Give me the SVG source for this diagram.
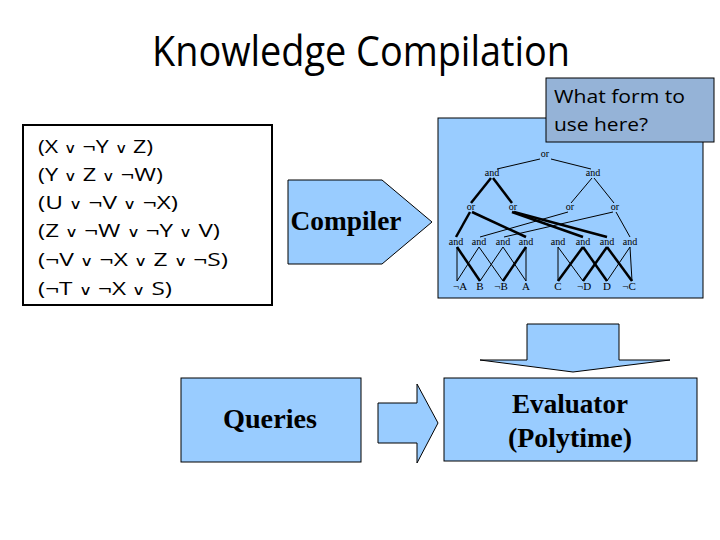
<svg xmlns="http://www.w3.org/2000/svg" width="720" height="540" viewBox="0 0 720 540">
<style>
.title{font-family:"Open Sans","DejaVu Sans",sans-serif;font-size:42px;fill:#000}
.cl{font-family:"Open Sans","DejaVu Sans",sans-serif;font-size:19px;fill:#000}
.v{font-family:"DejaVu Sans",sans-serif;font-size:14px;font-weight:200}
.big{font-family:"Liberation Serif","Times New Roman",serif;font-weight:bold;font-size:27px;fill:#000;text-anchor:middle}
.t{font-family:"Liberation Serif","Times New Roman",serif;font-size:10px;fill:#000;text-anchor:middle}
.lf{font-family:"Liberation Serif","DejaVu Serif",serif;font-size:11px;fill:#000;text-anchor:middle}
.blue{fill:#99CCFF;stroke:#000;stroke-width:1}
.thin{stroke:#000;stroke-width:1;fill:none}
.thick{stroke:#000;stroke-width:2.5;fill:none}
</style>
<rect width="720" height="540" fill="#fff"/>
<text class="title" x="152" y="66" textLength="418" lengthAdjust="spacingAndGlyphs">Knowledge Compilation</text>

<g id="clauses">
<rect x="23" y="125" width="249" height="180" fill="#fff" stroke="#000" stroke-width="2"/>
<text class="cl" x="38" y="153" textLength="115" lengthAdjust="spacingAndGlyphs">(X <tspan class="v">∨</tspan> ¬Y <tspan class="v">∨</tspan> Z)</text>
<text class="cl" x="38" y="181" textLength="125" lengthAdjust="spacingAndGlyphs">(Y <tspan class="v">∨</tspan> Z <tspan class="v">∨</tspan> ¬W)</text>
<text class="cl" x="38" y="209" textLength="140" lengthAdjust="spacingAndGlyphs">(U <tspan class="v">∨</tspan> ¬V <tspan class="v">∨</tspan> ¬X)</text>
<text class="cl" x="38" y="237" textLength="182" lengthAdjust="spacingAndGlyphs">(Z <tspan class="v">∨</tspan> ¬W <tspan class="v">∨</tspan> ¬Y <tspan class="v">∨</tspan> V)</text>
<text class="cl" x="38" y="266" textLength="190" lengthAdjust="spacingAndGlyphs">(¬V <tspan class="v">∨</tspan> ¬X <tspan class="v">∨</tspan> Z <tspan class="v">∨</tspan> ¬S)</text>
<text class="cl" x="38" y="295" textLength="134" lengthAdjust="spacingAndGlyphs">(¬T <tspan class="v">∨</tspan> ¬X <tspan class="v">∨</tspan> S)</text>
</g>

<g id="compiler">
<polygon class="blue" points="288,180 382,180 432,222 382,264 288,264"/>
<text class="big" x="346" y="230" textLength="111" lengthAdjust="spacingAndGlyphs">Compiler</text>
</g>

<g id="circuit">
<rect class="blue" x="438" y="118" width="265" height="180"/>
<text class="t" x="545" y="157">or</text>
<text class="t" x="492" y="176">and</text>
<text class="t" x="593" y="176">and</text>
<text class="t" x="471" y="210">or</text>
<text class="t" x="513" y="210">or</text>
<text class="t" x="570" y="210">or</text>
<text class="t" x="615" y="210">or</text>
<text class="t" x="456" y="245">and</text>
<text class="t" x="479" y="245">and</text>
<text class="t" x="503" y="245">and</text>
<text class="t" x="526" y="245">and</text>
<text class="t" x="558" y="245">and</text>
<text class="t" x="583" y="245">and</text>
<text class="t" x="607" y="245">and</text>
<text class="t" x="630" y="245">and</text>
<text class="lf" x="460" y="290">¬A</text>
<text class="lf" x="480" y="290">B</text>
<text class="lf" x="501" y="290">¬B</text>
<text class="lf" x="526" y="290">A</text>
<text class="lf" x="558" y="290">C</text>
<text class="lf" x="584" y="290">¬D</text>
<text class="lf" x="607" y="290">D</text>
<text class="lf" x="629" y="290">¬C</text>
</g>

<g id="callout">
<rect x="546" y="78" width="168" height="64" fill="#95B3D7" stroke="#000" stroke-width="1"/>
<text class="cl" x="554" y="103" textLength="131" lengthAdjust="spacingAndGlyphs">What form to</text>
<text class="cl" x="554" y="131" textLength="94" lengthAdjust="spacingAndGlyphs">use here?</text>
</g>

<g id="queries">
<rect class="blue" x="181" y="378" width="180" height="84"/>
<text class="big" x="270" y="428" textLength="94" lengthAdjust="spacingAndGlyphs">Queries</text>
</g>

<g id="evaluator">
<rect class="blue" x="444" y="378" width="253" height="83"/>
<text class="big" x="570" y="413" textLength="116" lengthAdjust="spacingAndGlyphs">Evaluator</text>
<text class="big" x="570" y="447" textLength="124" lengthAdjust="spacingAndGlyphs">(Polytime)</text>
</g>

<g id="connectors">
<polygon class="blue" points="527,324 619,324 619,360 670,360 573,372 480,360 527,360"/>
<polygon class="blue" points="378,403 417,403 417,384 438,423 417,463 417,443 378,443"/>
<g class="thin">
<line x1="540" y1="159" x2="497" y2="169"/>
<line x1="551" y1="159" x2="591" y2="169"/>
<line x1="592" y1="178" x2="571" y2="203"/>
<line x1="594" y1="178" x2="614" y2="203"/>
<line x1="568" y1="212" x2="480" y2="237"/>
<line x1="613" y1="212" x2="504" y2="237"/>
<line x1="616" y1="212" x2="630" y2="237"/>
<line x1="457" y1="247" x2="457" y2="281"/>
<line x1="479" y1="247" x2="457" y2="281"/>
<line x1="479" y1="247" x2="503" y2="281"/>
<line x1="503" y1="247" x2="480" y2="281"/>
<line x1="503" y1="247" x2="526" y2="281"/>
<line x1="526" y1="247" x2="526" y2="281"/>
<line x1="558" y1="247" x2="558" y2="281"/>
<line x1="558" y1="247" x2="583" y2="281"/>
<line x1="630" y1="247" x2="632" y2="281"/>
<line x1="630" y1="247" x2="607" y2="281"/>
</g>
<g class="thick">
<line x1="491" y1="178" x2="471" y2="203"/>
<line x1="493" y1="178" x2="512" y2="203"/>
<line x1="470" y1="212" x2="456" y2="237"/>
<line x1="472" y1="212" x2="526" y2="237"/>
<line x1="512" y1="212" x2="583" y2="237"/>
<line x1="514" y1="212" x2="607" y2="237"/>
<line x1="457" y1="247" x2="480" y2="281"/>
<line x1="526" y1="247" x2="503" y2="281"/>
<line x1="583" y1="247" x2="558" y2="281"/>
<line x1="583" y1="247" x2="607" y2="281"/>
<line x1="607" y1="247" x2="583" y2="281"/>
<line x1="607" y1="247" x2="632" y2="281"/>
</g>
</g>
</svg>
